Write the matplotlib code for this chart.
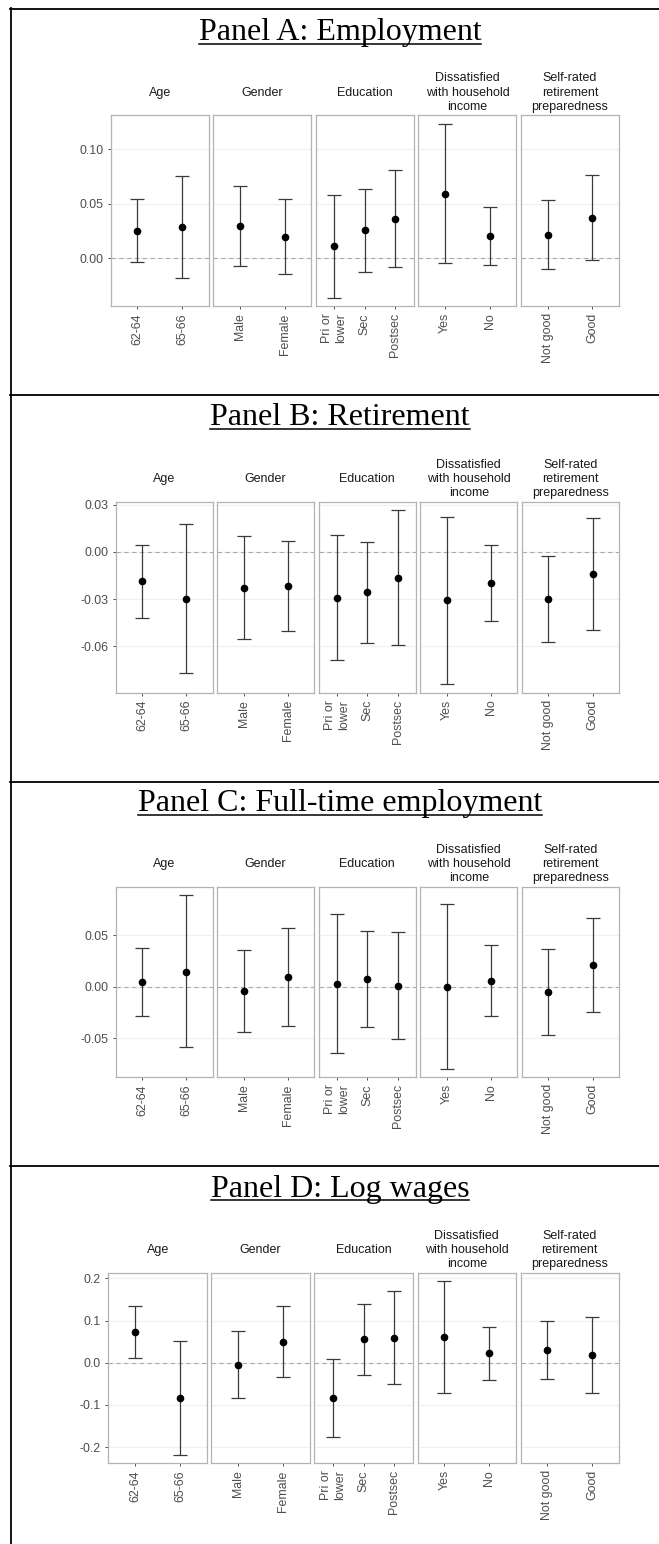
import matplotlib.pyplot as plt
import numpy as np
from matplotlib.lines import Line2D

plt.rcParams['font.family'] = ['Liberation Sans', 'DejaVu Sans']
plt.rcParams['axes.unicode_minus'] = False

# facet groups and their levels
groups = ['Age', 'Gender', 'Education',
          'Dissatisfied\nwith household\nincome',
          'Self-rated\nretirement\npreparedness']
levels = [['62-64', '65-66'],
          ['Male', 'Female'],
          ['Pri or\nlower', 'Sec', 'Postsec'],
          ['Yes', 'No'],
          ['Not good', 'Good']]

# estimates with 95% CI, in the order of the levels above
emp_est = [0.0253, 0.0287, 0.0293, 0.0198, 0.0110, 0.0256, 0.0360, 0.0591, 0.0201, 0.0213, 0.0372]
emp_lo = [-0.0040, -0.0180, -0.0070, -0.0143, -0.0363, -0.0125, -0.0085, -0.0046, -0.0064, -0.0104, -0.0015]
emp_hi = [0.0546, 0.0756, 0.0659, 0.0543, 0.0582, 0.0637, 0.0808, 0.1232, 0.0470, 0.0534, 0.0759]

ret_est = [-0.0186, -0.0299, -0.0229, -0.0218, -0.0290, -0.0258, -0.0165, -0.0309, -0.0197, -0.0299, -0.0142]
ret_lo = [-0.0419, -0.0773, -0.0557, -0.0506, -0.0688, -0.0580, -0.0595, -0.0841, -0.0438, -0.0574, -0.0495]
ret_hi = [0.0044, 0.0176, 0.0104, 0.0072, 0.0108, 0.0061, 0.0265, 0.0224, 0.0047, -0.0023, 0.0216]

ft_est = [0.0045, 0.0145, -0.0045, 0.0090, 0.0029, 0.0074, 0.0010, 0.0000, 0.0058, -0.0052, 0.0210]
ft_lo = [-0.0290, -0.0590, -0.0442, -0.0387, -0.0648, -0.0394, -0.0513, -0.0797, -0.0281, -0.0471, -0.0245]
ft_hi = [0.0377, 0.0887, 0.0355, 0.0568, 0.0703, 0.0542, 0.0532, 0.0806, 0.0400, 0.0365, 0.0665]

wage_est = [0.0717, -0.0827, -0.0047, 0.0496, -0.0835, 0.0551, 0.0591, 0.0598, 0.0220, 0.0307, 0.0173]
wage_lo = [0.0110, -0.2180, -0.0827, -0.0331, -0.1764, -0.0291, -0.0512, -0.0724, -0.0402, -0.0386, -0.0717]
wage_hi = [0.1339, 0.0520, 0.0748, 0.1339, 0.0094, 0.1394, 0.1709, 0.1929, 0.0843, 0.1000, 0.1087]

titles = ['Panel A: Employment', 'Panel B: Retirement',
          'Panel C: Full-time employment', 'Panel D: Log wages']
yticks = [[0.0, 0.05, 0.10], [-0.06, -0.03, 0.0, 0.03],
          [-0.05, 0.0, 0.05], [-0.2, -0.1, 0.0, 0.1, 0.2]]
yfmt = ['{:.2f}', '{:.2f}', '{:.2f}', '{:.1f}']
series = [(emp_est, emp_lo, emp_hi), (ret_est, ret_lo, ret_hi),
          (ft_est, ft_lo, ft_hi), (wage_est, wage_lo, wage_hi)]

# pixel layout of each panel: table line, title baseline, plot left, plot top, plot bottom
W, H = 659, 1544
rule_y = [9, 394.7, 781.7, 1165.7]
title_base = [40, 425, 811, 1196.5]
plot_left = [110.7, 115.5, 115.5, 108.4]
plot_top = [115.3, 501.7, 886.7, 1272.7]
plot_bot = [306.3, 692.7, 1077.3, 1463.3]
plot_right = 619
gap = 4.6

fig = plt.figure(figsize=(W / 100, H / 100), dpi=100)

def fx(px):
    return px / W

def fy(py):
    return 1 - py / H

text_gray = '#4D4D4D'

for p in range(4):
    est, lo, hi = [np.array(s) for s in series[p]]
    ymin, ymax = lo.min(), hi.max()
    pad = 0.05 * (ymax - ymin)
    w = (plot_right - plot_left[p] - 4 * gap) / 5
    start = 0
    for g in range(5):
        n = len(levels[g])
        sl = slice(start, start + n)
        start += n
        x0 = plot_left[p] + g * (w + gap)
        ax = fig.add_axes([fx(x0), fy(plot_bot[p]), fx(w),
                           (plot_bot[p] - plot_top[p]) / H])
        xs = np.arange(1, n + 1)
        ax.axhline(0, color='#ABABAB', lw=0.8, ls=(0, (4, 3)), zorder=1)
        ax.errorbar(xs, est[sl], yerr=[est[sl] - lo[sl], hi[sl] - est[sl]],
                    fmt='o', color='black', ecolor='#3A3A3A', elinewidth=0.9,
                    capsize=4.7, capthick=0.9, ms=4.5, zorder=3)
        ax.set_xlim(0.4, n + 0.6)
        ax.set_ylim(ymin - pad, ymax + pad)
        ax.set_yticks(yticks[p])
        ax.yaxis.grid(True, color='#F0F0F0', lw=0.9)
        ax.set_axisbelow(True)
        for sp in ax.spines.values():
            sp.set_color('#B3B3B3')
            sp.set_linewidth(0.9)
        ax.set_xticks(xs)
        ax.set_xticklabels(levels[g], rotation=90, ha='center', va='top',
                           multialignment='right', linespacing=1.3)
        ax.tick_params(axis='x', length=2.0, width=0.7, color=text_gray,
                       pad=3.0, labelsize=8.9, labelcolor=text_gray)
        if g == 0:
            ax.set_yticklabels([yfmt[p].format(v) for v in yticks[p]])
            ax.tick_params(axis='y', length=2.0, width=0.7, color=text_gray,
                           pad=3.3, labelsize=8.9, labelcolor=text_gray)
        else:
            ax.tick_params(axis='y', length=0, labelleft=False)
        ax.annotate(groups[g], xy=(0.5, 1), xycoords='axes fraction',
                    xytext=(0, 16.3), textcoords='offset points',
                    ha='center', va='center', fontsize=9, color='#1A1A1A',
                    linespacing=1.25)

    fig.text(fx(340), fy(title_base[p]), titles[p], ha='center',
             va='baseline', fontsize=23, family='Liberation Serif')

# underline each panel title
renderer = fig.canvas.get_renderer()
for p, t in enumerate(fig.texts):
    bb = t.get_window_extent(renderer)
    uy = fy(title_base[p] + 3.5)
    fig.add_artist(Line2D([bb.x0 / W, bb.x1 / W], [uy, uy], color='black',
                          lw=1.1, transform=fig.transFigure))

# table rules
for ry in rule_y:
    fig.add_artist(Line2D([fx(10), 1], [fy(ry), fy(ry)], color='black',
                          lw=1.3, transform=fig.transFigure))
fig.add_artist(Line2D([fx(11), fx(11)], [fy(8.4), 0], color='black',
                      lw=1.3, transform=fig.transFigure))

fig.savefig('out.png', dpi=100)
